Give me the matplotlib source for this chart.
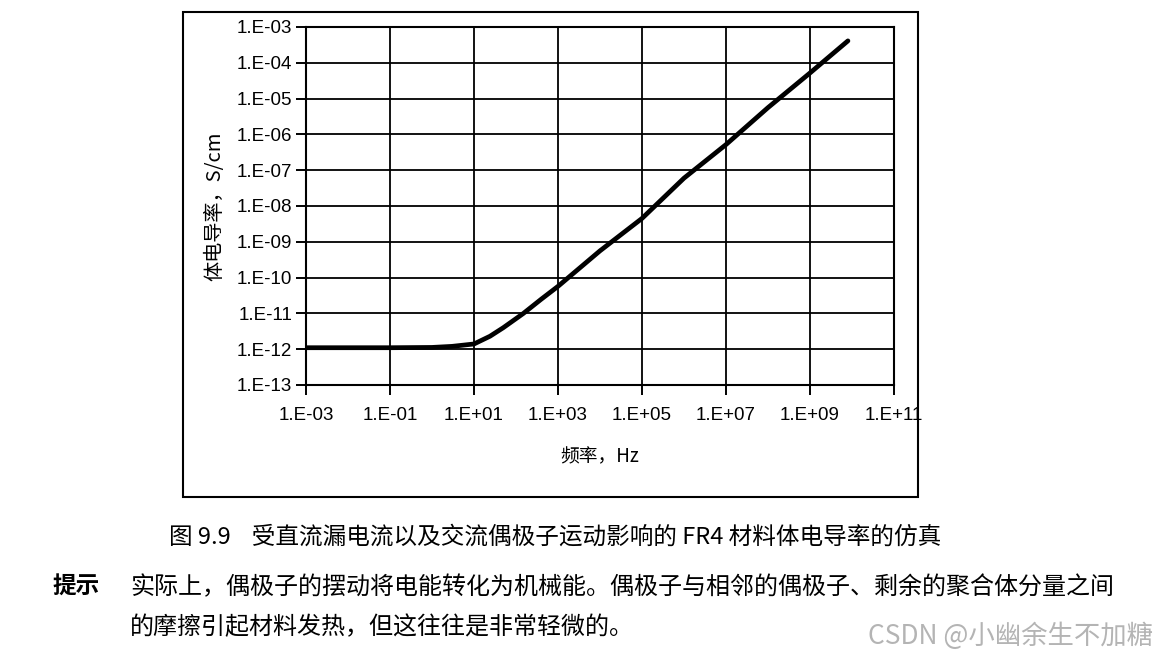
import matplotlib.pyplot as plt
import matplotlib.ticker as mticker
from matplotlib.patches import Rectangle
import numpy as np

plt.rcParams['font.family'] = ['Liberation Sans', 'Noto Sans CJK SC', 'DejaVu Sans']

# values (Hz, S/cm)
freq = [1e-3, 1e-2, 1e-1, 1e0, 3e0, 1e1, 2.4e1, 5e1, 1.5e2, 4e2, 1e3,
        1e4, 1e5, 1e6, 1e7, 1e8, 1e9, 8e9]
sigma = [1.1e-12, 1.1e-12, 1.1e-12, 1.12e-12, 1.2e-12, 1.4e-12, 2.3e-12,
         4e-12, 1.0e-11, 2.5e-11, 5.7e-11, 5.6e-10, 4.5e-9, 6e-8, 5.2e-7,
         5.6e-6, 5.2e-5, 4.1e-4]

x_ticks = [1e-3, 1e-1, 1e1, 1e3, 1e5, 1e7, 1e9, 1e11]
y_ticks = [1e-13, 1e-12, 1e-11, 1e-10, 1e-9, 1e-8, 1e-7, 1e-6, 1e-5, 1e-4, 1e-3]

W, H = 1169, 659
fig = plt.figure(figsize=(W / 100, H / 100), dpi=100)

# axes box in pixels: left 306, right 894, top 27, bottom 385
ax = fig.add_axes([306 / W, 1 - 385 / H, (894 - 306) / W, (385 - 27) / H])
ax.set_xscale('log')
ax.set_yscale('log')
ax.plot(freq, sigma, color='black', lw=3.4, solid_capstyle='round', zorder=3)

ax.set_xlim(1e-3, 1e11)
ax.set_ylim(1e-13, 1e-3)
ax.set_xticks(x_ticks)
ax.set_yticks(y_ticks)
ax.xaxis.set_minor_locator(mticker.NullLocator())
ax.yaxis.set_minor_locator(mticker.NullLocator())

def fmt(v, pos):
    return "1.E%+03d" % int(round(np.log10(v)))

ax.xaxis.set_major_formatter(mticker.FuncFormatter(fmt))
ax.yaxis.set_major_formatter(mticker.FuncFormatter(fmt))
ax.tick_params(direction='out', length=7, width=1.4, labelsize=13.5, color='black')
ax.tick_params(axis='x', pad=9)
ax.tick_params(axis='y', pad=3)
ax.grid(True, color='black', lw=1.3)
for s in ax.spines.values():
    s.set_linewidth(1.5)

ax.set_xlabel('频率，Hz', family=['Noto Sans CJK SC'], fontsize=13.5, labelpad=16)
ax.set_ylabel('体电导率，S/cm', family=['Noto Sans CJK SC'], fontsize=14.5, labelpad=8)

# outer chart border
fig.patches.append(Rectangle((183 / W, 1 - 497 / H), (918 - 183) / W, (497 - 12) / H,
                             transform=fig.transFigure, fill=False, ec='black', lw=1.5))

cjk = ['Noto Sans CJK SC', 'DejaVu Sans']
fig.text(555 / W, 1 - 537 / H, '图 9.9    受直流漏电流以及交流偶极子运动影响的 FR4 材料体电导率的仿真',
         ha='center', va='center', fontsize=17, family=cjk)
fig.text(52 / W, 1 - 587 / H, '提示', ha='left', va='center', fontsize=17,
         family=cjk, fontweight='bold')
fig.text(130 / W, 1 - 587 / H,
         '实际上，偶极子的摆动将电能转化为机械能。偶极子与相邻的偶极子、剩余的聚合体分量之间',
         ha='left', va='center', fontsize=17.3, family=cjk)
fig.text(130 / W, 1 - 627 / H, '的摩擦引起材料发热，但这往往是非常轻微的。',
         ha='left', va='center', fontsize=17.3, family=cjk)
fig.text(1153 / W, 1 - 636 / H, 'CSDN @小幽余生不加糖', ha='right', va='center',
         fontsize=19, color='#b4b4b4', family=cjk)

fig.savefig('out.png', dpi=100)
